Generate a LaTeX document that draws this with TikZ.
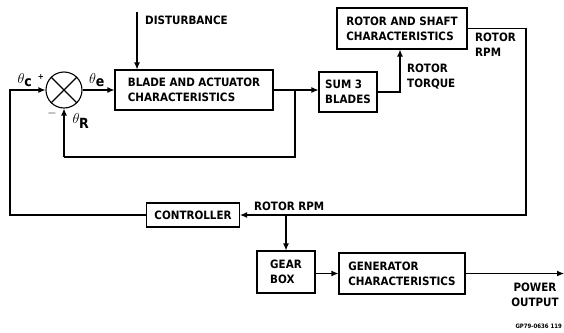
\documentclass[tikz,border=0pt]{standalone}
\usepackage{fontspec}
\setsansfont{DejaVu Sans Condensed}
\usetikzlibrary{arrows.meta}
\tikzset{
  blockbox/.style={draw=black, line width=1.1pt, inner sep=2pt, align=left,
    font=\sffamily\bfseries\fontsize{11.5}{15}\selectfont},
  lbl/.style={inner sep=0pt, align=left, font=\sffamily\bfseries\fontsize{11.5}{15}\selectfont},
  angl/.style={inner sep=0pt, font=\fontsize{14}{16}\selectfont},
  sig/.style={draw=black, line width=1.1pt, -{Latex[length=7pt,width=6pt]}},
  wire/.style={draw=black, line width=1.1pt}
}
\newcommand{\subl}[1]{\textsf{\textbf{#1}}}
\begin{document}
\begin{tikzpicture}[x=1pt, y=-1pt]
            \useasboundingbox (0,0) rectangle (564,332);
            % blocks
            \node[circle, draw=black, line width=1.1pt, minimum size=36pt, inner sep=0pt] (sj) at (64,90) {};
            \draw[wire] (sj.north east) -- (sj.south west);
            \draw[wire] (sj.north west) -- (sj.south east);
            \node[blockbox, minimum width=158pt, minimum height=40pt] (blade) at (194,90) {BLADE AND ACTUATOR\\CHARACTERISTICS};
            \node[blockbox, minimum width=58pt, minimum height=40pt] (sum) at (348,92) {SUM 3\\BLADES};
            \node[blockbox, minimum width=130pt, minimum height=41pt] (rotor) at (402,28.5) {ROTOR AND SHAFT\\CHARACTERISTICS};
            \node[blockbox, minimum width=93pt, minimum height=24pt, align=center] (ctrl) at (193,215) {CONTROLLER};
            \node[blockbox, minimum width=58pt, minimum height=42pt] (gear) at (286,272) {GEAR\\BOX};
            \node[blockbox, minimum width=126pt, minimum height=41pt] (gen) at (402,273.5) {GENERATOR\\CHARACTERISTICS};
            % corner points
            \coordinate (dist) at (137,12);
            \coordinate (split) at (295,90);
            \coordinate (fbl) at (295,157);
            \coordinate (fbr) at (64,157);
            \coordinate (inl) at (10,215);
            \coordinate (inu) at (10,90);
            \coordinate (tq) at (400,92);
            \coordinate (rpmr) at (526,28.5);
            \coordinate (rpmb) at (526,215);
            \coordinate (tap) at (286,215);
            \coordinate (pout) at (564,273.5);
            % signals
            \draw[sig] (dist) -- (dist |- blade.north);
            \draw[sig] (sj) -- (blade.west |- sj);
            \draw[sig] (blade.east |- split) -- (sum.west |- split);
            \draw[wire] (split) -- (fbl) -- (fbr);
            \draw[sig] (fbr) -- (sj.south);
            \draw[sig] (ctrl.west) -- (inl) -- (inu) -- (sj.west);
            \draw[sig] (sum.east |- tq) -- (tq) -- (tq |- rotor.south);
            \draw[sig] (rotor.east) -- (rpmr) -- (rpmb) -- (ctrl.east);
            \draw[sig] (tap) -- (gear.north);
            \draw[sig] (gear.east |- gen) -- (gen.west);
            \draw[sig] (gen.east) -- (pout);
            % labels
            \node[lbl, anchor=west] (ldist) at (145,20) {DISTURBANCE};
            \node[angl] (lthc) at (25,80) {$\theta_{\subl{c}}$};
            \node[lbl] (lplus) at (41,77) {\footnotesize +};
            \node[angl] (lthe) at (97,80) {$\theta_{\subl{e}}$};
            \node[lbl] (lminus) at (52,113) {$-$};
            \node[angl] (lthr) at (81,121) {$\theta_{\subl{R}}$};
            \node[lbl, anchor=west] (ltq) at (407,77) {ROTOR\\TORQUE};
            \node[lbl, anchor=west] (lrpm) at (475,45) {ROTOR\\RPM};
            \node[lbl, anchor=west] (lrpm2) at (254,206) {ROTOR RPM};
            \node[lbl, align=center] (lout) at (535,295) {POWER\\OUTPUT};
            \node[anchor=east, inner sep=0pt, font=\sffamily\bfseries\fontsize{6}{7}\selectfont] (lgp) at (562,326) {GP79-0636 119};
\end{tikzpicture}
\end{document}
